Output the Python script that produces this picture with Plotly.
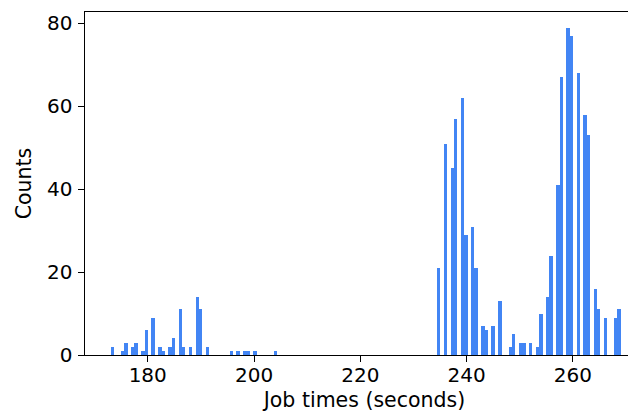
import numpy as np
import plotly.graph_objects as go

# Job times (integer seconds) and how many jobs took that long
job_seconds = [173, 175, 176, 177, 178, 179, 180, 181, 182, 183, 184, 185, 186, 187, 188,
               189, 190, 191, 196, 197, 198, 199, 200, 204,
               235, 236, 237, 238, 239, 240, 241, 242, 243, 244, 245, 246, 248, 249, 250,
               251, 252, 253, 254, 255, 256, 257, 258, 259, 260, 261, 262, 263, 264, 265,
               266, 268, 269]
job_counts = [2, 1, 3, 2, 3, 1, 6, 9, 2, 1, 2, 4, 11, 2, 2,
              14, 11, 2, 1, 1, 1, 1, 1, 1,
              21, 51, 45, 57, 62, 29, 31, 21, 7, 6, 7, 13, 2, 5, 3,
              3, 3, 2, 10, 14, 24, 41, 67, 79, 77, 68, 58, 53, 16, 11,
              9, 9, 11]
n_bins = 150

x_ticks = [180, 200, 220, 240, 260]
y_ticks = [0, 20, 40, 60, 80]

samples = np.repeat(np.array(job_seconds, dtype=float), job_counts)
hist, edges = np.histogram(samples, bins=n_bins)
centers = (edges[:-1] + edges[1:]) / 2
widths = np.diff(edges)

fig = go.Figure(go.Bar(x=centers, y=hist, width=widths,
                       marker=dict(color='#4285F4', line=dict(width=0))))

font_family = 'DejaVu Sans'
fs = 20
fig.update_layout(
    width=636, height=417,
    margin=dict(l=77, r=0, t=4, b=70),
    plot_bgcolor='white', paper_bgcolor='white',
    bargap=0, showlegend=False,
    font=dict(family=font_family, size=fs, color='black'),
)
fig.update_xaxes(range=[168.2, 168.2 + 559 / 5.315], tickvals=x_ticks,
                 ticks='outside', ticklen=5.6, tickwidth=1, tickcolor='black',
                 ticklabelstandoff=-4,
                 showline=True, linecolor='black', linewidth=1, mirror=True,
                 showgrid=False, zeroline=False,
                 title=dict(text='Job times (seconds)', font=dict(size=20.5), standoff=7))
fig.update_yaxes(range=[0, 343 / 4.145], tickvals=y_ticks,
                 ticks='outside', ticklen=5.6, tickwidth=1, tickcolor='black',
                 ticklabelstandoff=2,
                 showline=True, linecolor='black', linewidth=1, mirror=False,
                 showgrid=False, zeroline=False,
                 title=dict(text='Counts', font=dict(size=20.5), standoff=9))

fig.write_html('out.html')
